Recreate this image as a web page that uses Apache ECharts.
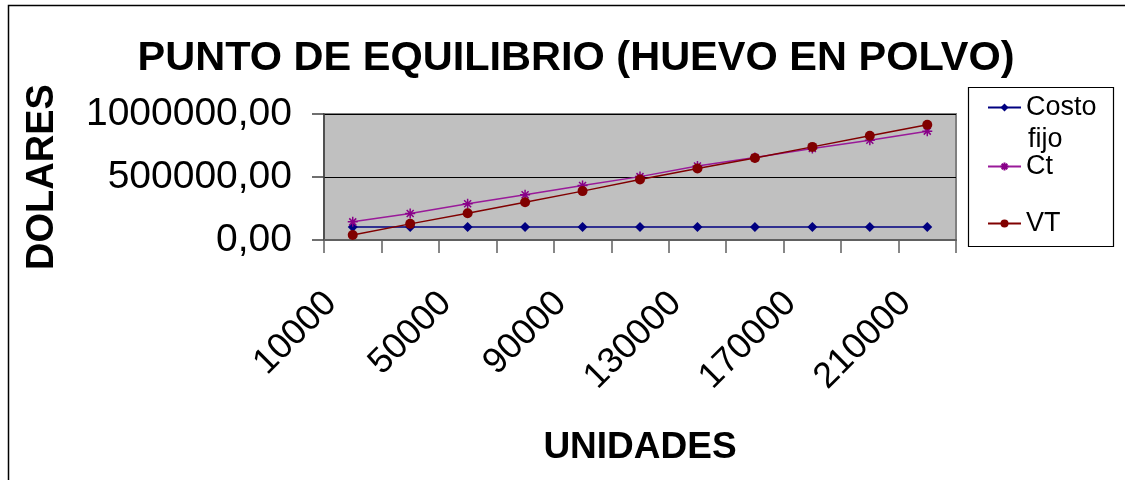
<!DOCTYPE html>
<html><head><meta charset="utf-8">
<script src="https://cdn.jsdelivr.net/npm/echarts@6/dist/echarts.min.js"></script>
<style>html,body{margin:0;padding:0;background:#fff}#c{width:1125px;height:480px}</style>
</head><body><div id="c"></div>
<script>
const categories = ['10000','30000','50000','70000','90000','110000','130000','150000','170000','190000','210000'];
const costoFijo = [103000,103000,103000,103000,103000,103000,103000,103000,103000,103000,103000];
const ct = [144000,210000,287000,359000,433000,503000,587000,654000,726000,792000,864000];
const vt = [40000,128000,212000,300000,388000,480000,567000,651000,739000,827000,915000];
const yTicks = [0, 500000, 1000000];

const FONT = 'Liberation Sans, Arial, sans-serif';
const chart = echarts.init(document.getElementById('c'), null, {renderer:'canvas'});
const asterisk = 'path://M0,5L10,5M5,0L5,10M1.5,1.5L8.5,8.5M8.5,1.5L1.5,8.5';
chart.setOption({
  animation:false,
  backgroundColor:'#fff',
  title:{text:'PUNTO DE EQUILIBRIO (HUEVO EN POLVO)', left:571, textAlign:'center', top:33,
    textStyle:{fontFamily:FONT, fontSize:41.5, fontWeight:'bold', color:'#000'}},
  grid:{left:324, right:169, top:114, bottom:240, show:true, backgroundColor:'#C0C0C0', borderColor:'#808080', borderWidth:2},
  legend:[
    {data:['Costo fijo'], orient:'vertical', left:987, top:92, padding:0, itemWidth:33, itemHeight:10,
     formatter:()=> 'Costo', textStyle:{fontFamily:FONT, fontSize:27, color:'#000', lineHeight:31}},
    {data:['Ct'], orient:'vertical', left:987, top:151, padding:0, itemWidth:33, itemHeight:10,
     textStyle:{fontFamily:FONT, fontSize:27, color:'#000', lineHeight:31}},
    {data:['VT'], orient:'vertical', left:987, top:208, padding:0, itemWidth:33, itemHeight:10,
     textStyle:{fontFamily:FONT, fontSize:27, color:'#000', lineHeight:31}}
  ],
  graphic:[
    {type:'rect', shape:{x:8.5, y:5.5, width:1200, height:600}, style:{fill:'none', stroke:'#000', lineWidth:1.5}, silent:true, z:-10},
    {type:'rect', shape:{x:968.5, y:87.5, width:145, height:159}, style:{fill:'none', stroke:'#000', lineWidth:1.2}, silent:true},
    {type:'text', left:1028, top:126, style:{text:'fijo', font:'27px Liberation Sans, Arial', fill:'#000'}}
  ],
  xAxis:{type:'category', data:categories, boundaryGap:true,
    name:'UNIDADES', nameLocation:'middle', nameGap:189,
    nameTextStyle:{fontFamily:FONT, fontSize:37, fontWeight:'bold', color:'#000'},
    axisLine:{lineStyle:{color:'#606060', width:2}},
    axisTick:{show:true, length:13, interval:0, lineStyle:{color:'#606060', width:1.5}},
    axisLabel:{interval:1, rotate:45, margin:36, padding:[0,31,0,0], fontFamily:FONT, fontSize:36, color:'#000'},
    splitLine:{show:false}},
  yAxis:{type:'value', min:0, max:1000000, interval:500000,
    name:'DOLARES', nameLocation:'middle', nameGap:262, nameRotate:90,
    nameTextStyle:{fontFamily:FONT, fontSize:38, fontWeight:'bold', color:'#000'},
    axisLine:{show:true, lineStyle:{color:'#404040', width:1.5}},
    axisTick:{show:true, length:12, lineStyle:{color:'#404040', width:1.5}},
    axisLabel:{margin:32, fontFamily:FONT, fontSize:39, color:'#000',
      formatter:v=> yTicks.indexOf(v)>=0 ? v.toFixed(2).replace('.',',') : ''},
    splitLine:{show:true, lineStyle:{color:'#000', width:1}}},
  series:[
    {name:'Costo fijo', type:'line', data:costoFijo, symbol:'diamond', symbolSize:10,
     lineStyle:{color:'#000080', width:1.5}, itemStyle:{color:'#000080'}},
    {name:'Ct', type:'line', data:ct, symbol:asterisk, symbolSize:10,
     lineStyle:{color:'#991A99', width:1.5}, itemStyle:{color:'#880088', borderColor:'#880088', borderWidth:1.5}},
    {name:'VT', type:'line', data:vt, symbol:'circle', symbolSize:10,
     lineStyle:{color:'#800000', width:1.5}, itemStyle:{color:'#800000'}}
  ]
});
</script></body></html>
